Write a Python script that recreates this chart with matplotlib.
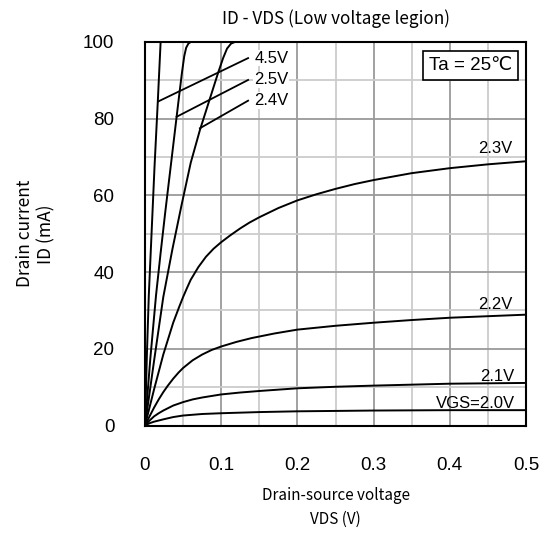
import matplotlib
matplotlib.use("Agg")
import matplotlib.pyplot as plt
from matplotlib.ticker import MultipleLocator

# curves (VDS in V, ID in mA)
vds_20 = [0, 0.006, 0.012, 0.024, 0.037, 0.05, 0.075, 0.1, 0.15, 0.2, 0.3, 0.4, 0.5]
id_20 = [0, 0.6, 1.0, 1.6, 2.2, 2.6, 3.0, 3.2, 3.5, 3.7, 3.9, 4.0, 4.0]

vds_21 = [0, 0.006, 0.012, 0.018, 0.024, 0.037, 0.05, 0.0625, 0.075, 0.1,
          0.125, 0.15, 0.2, 0.25, 0.3, 0.4, 0.5]
id_21 = [0, 1.3, 2.4, 3.2, 3.9, 5.2, 6.1, 6.8, 7.3, 8.1,
         8.6, 9.0, 9.7, 10.1, 10.4, 10.9, 11.1]

vds_22 = [0, 0.006, 0.012, 0.018, 0.024, 0.03, 0.037, 0.044, 0.05, 0.0625,
          0.075, 0.0875, 0.1, 0.12, 0.14, 0.17, 0.2, 0.25, 0.3, 0.35, 0.4,
          0.45, 0.5]
id_22 = [0, 2.4, 4.7, 6.8, 8.7, 10.4, 12.2, 13.8, 15.0, 17.0,
         18.5, 19.7, 20.6, 21.8, 22.8, 24.0, 25.0, 26.0, 26.8, 27.5, 28.1,
         28.5, 28.9]

vds_23 = [0, 0.012, 0.024, 0.037, 0.045, 0.05, 0.055, 0.06, 0.07, 0.08,
          0.09, 0.1, 0.112, 0.125, 0.137, 0.15, 0.175, 0.2,
          0.225, 0.25, 0.275, 0.3, 0.35, 0.4, 0.45, 0.5]
id_23 = [0, 9.5, 18.5, 26.8, 31.0, 33.5, 35.8, 38.0, 41.3, 44.0,
         46.1, 47.8, 49.6, 51.4, 52.9, 54.3, 56.7, 58.7,
         60.3, 61.7, 62.95, 64.0, 65.8, 67.1, 68.1, 68.9]

vds_24 = [0, 0.012, 0.024, 0.036, 0.048, 0.06, 0.072, 0.084, 0.096, 0.1025,
          0.1077, 0.113, 0.118]
id_24 = [0, 17.0, 33.5, 46.0, 57.5, 68.5, 77.0, 84.5, 92.0, 95.8,
         98.3, 99.6, 100]

vds_25 = [0, 0.007, 0.0145, 0.0205, 0.0265, 0.0325, 0.0385, 0.0445, 0.0485,
          0.0515, 0.054, 0.057, 0.06]
id_25 = [0, 17.5, 34.0, 45.0, 55.5, 65.5, 75.5, 85.5, 92.0,
         96.3, 98.5, 99.6, 100]

vds_45 = [0, 0.0025, 0.005, 0.0125, 0.0168, 0.0205]
id_45 = [0, 18.5, 34.0, 67.5, 84.5, 100]

curves = [(vds_20, id_20), (vds_21, id_21), (vds_22, id_22), (vds_23, id_23),
          (vds_24, id_24), (vds_25, id_25), (vds_45, id_45)]

# right-hand labels: text, x (right edge), y (bottom)
right_labels = ["VGS=2.0V", "2.1V", "2.2V", "2.3V"]
right_label_x = [0.485, 0.485, 0.482, 0.482]
right_label_y = [3.8, 10.7, 29.7, 70.3]

# leader labels for the steep curves: text, start point on curve, end point
lead_labels = ["4.5V", "2.5V", "2.4V"]
lead_start = [(0.0174, 84.5), (0.0415, 80.5), (0.072, 77.5)]
lead_end = [(0.1353, 95.8), (0.1353, 90.1), (0.1353, 84.7)]

jp = ["Noto Sans CJK JP", "DejaVu Sans"]
sans = ["Liberation Sans", "DejaVu Sans"]

fig = plt.figure(figsize=(5.51, 5.35), dpi=100)
ax = fig.add_axes([145 / 551, 1 - 425.5 / 535, 381 / 551, 383.5 / 535])

for x, y in curves:
    ax.plot(x, y, color="black", lw=1.4, solid_joinstyle="round", zorder=3)

for txt, (x0, y0), (x1, y1) in zip(lead_labels, lead_start, lead_end):
    ax.plot([x0, x1], [y0, y1], color="black", lw=1.3, zorder=3)
    ax.text(x1 + 0.008, y1, txt, ha="left", va="center", fontsize=12,
            family=sans, zorder=4,
            bbox=dict(boxstyle="square,pad=0.05", fc="white", ec="none"))

for txt, x, y in zip(right_labels, right_label_x, right_label_y):
    ax.text(x, y, txt, ha="right", va="bottom", fontsize=12, family=sans,
            zorder=4)

ax.text(0.427, 93.9, "Ta = 25℃", ha="center", va="center", fontsize=13.5,
        family=sans, zorder=5,
        bbox=dict(boxstyle="square,pad=0.33", fc="white", ec="black", lw=1.2))

ax.set_xlim(0, 0.5)
ax.set_ylim(0, 100)
ax.xaxis.set_major_locator(MultipleLocator(0.1))
ax.xaxis.set_minor_locator(MultipleLocator(0.05))
ax.yaxis.set_major_locator(MultipleLocator(20))
ax.yaxis.set_minor_locator(MultipleLocator(10))
ax.set_xticks([0, 0.1, 0.2, 0.3, 0.4, 0.5])
ax.set_xticklabels(["0", "0.1", "0.2", "0.3", "0.4", "0.5"])
ax.grid(which="major", color="#9a9a9a", lw=1.3, zorder=0)
ax.grid(which="minor", color="#cbcbcb", lw=1.3, zorder=0)
ax.set_axisbelow(True)
ax.tick_params(which="both", length=0)
ax.tick_params(axis="x", pad=23)
ax.tick_params(axis="y", pad=22)
for lab in ax.get_xticklabels() + ax.get_yticklabels():
    lab.set_family(sans)
    lab.set_fontsize(13.5)
for s in ax.spines.values():
    s.set_linewidth(1.5)
    s.set_zorder(6)

ax.set_title("ID - VDS (Low voltage legion)", family=jp, fontsize=12.3, pad=13)
ax.set_xlabel("Drain-source voltage\nVDS (V)", family=jp, fontsize=11,
              linespacing=1.5, labelpad=9)
ax.set_ylabel("Drain current\nID (mA)", family=jp, fontsize=12.5,
              linespacing=1.2, va="center")
ax.yaxis.set_label_coords((36 - 145) / 381, 0.5)

fig.savefig("out.png", dpi=100)
